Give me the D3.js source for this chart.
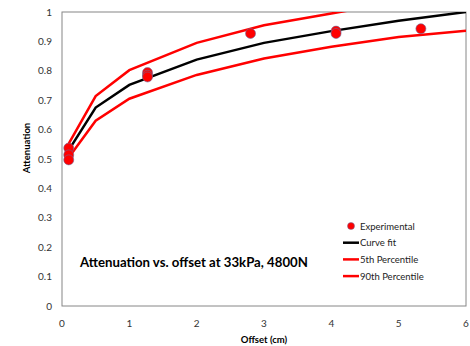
<!DOCTYPE html>
<html>
<head>
<meta charset="utf-8">
<script src="https://cdn.jsdelivr.net/npm/d3@7"></script>
<style>
  body { margin: 0; background: #fff; }
  svg { font-family: Lato, "Open Sans", sans-serif; }
</style>
</head>
<body>
<svg id="chart" width="470" height="346"></svg>
<script>
// curve x positions (cm)
const fitX = [0.1, 0.5, 1, 2, 3, 4, 5, 6];
const curveFit = [0.53, 0.675, 0.752, 0.838, 0.895, 0.935, 0.97, 1.0];
const pct5 = [0.552, 0.714, 0.802, 0.895, 0.955, 0.995, 1.035, 1.07];
const pct90 = [0.505, 0.63, 0.705, 0.786, 0.842, 0.882, 0.915, 0.936];

const expX = [0.1, 0.1, 0.1, 1.27, 1.27, 1.27, 2.8, 4.07, 4.07, 5.33];
const expY = [0.537, 0.514, 0.497, 0.794, 0.785, 0.779, 0.927, 0.935, 0.927, 0.943];

const xTicks = [0, 1, 2, 3, 4, 5, 6];
const yTicks = [0, 0.1, 0.2, 0.3, 0.4, 0.5, 0.6, 0.7, 0.8, 0.9, 1];

const legendItems = ['Experimental', 'Curve fit', '5th Percentile', '90th Percentile'];

const margin = {left: 62, right: 4, top: 12, bottom: 40};
const width = 470, height = 346;

const svg = d3.select('#chart');
const x = d3.scaleLinear().domain([0, 6]).range([margin.left, width - margin.right]);
const y = d3.scaleLinear().domain([0, 1]).range([height - margin.bottom, margin.top]);

svg.append('defs').append('clipPath').attr('id', 'plotClip')
  .append('rect')
  .attr('x', x(0)).attr('y', y(1))
  .attr('width', x(6) - x(0)).attr('height', y(0) - y(1));

// plot border
svg.append('rect')
  .attr('x', x(0)).attr('y', y(1))
  .attr('width', x(6) - x(0)).attr('height', y(0) - y(1))
  .attr('fill', 'none')
  .attr('stroke', '#868686')
  .attr('stroke-width', 1);

// y tick labels
svg.append('g').selectAll('text')
  .data(yTicks)
  .join('text')
  .attr('x', x(0) - 10)
  .attr('y', d => y(d) + 3.5)
  .attr('text-anchor', 'end')
  .attr('font-size', 10)
  .attr('fill', '#333')
  .text(d => d3.format('')(+d.toFixed(1)));

// x tick labels
svg.append('g').selectAll('text')
  .data(xTicks)
  .join('text')
  .attr('x', d => x(d))
  .attr('y', y(0) + 21)
  .attr('text-anchor', 'middle')
  .attr('font-size', 10)
  .attr('fill', '#333')
  .text(d => d);

// axis titles
svg.append('text')
  .attr('x', 264)
  .attr('y', 343)
  .attr('text-anchor', 'middle')
  .attr('font-size', 9.5)
  .attr('font-weight', 'bold')
  .text('Offset (cm)');

svg.append('text')
  .attr('transform', `translate(30,148) rotate(-90)`)
  .attr('text-anchor', 'middle')
  .attr('font-size', 9.5)
  .attr('font-weight', 'bold')
  .text('Attenuation');

const line = d3.line().x(d => x(d[0])).y(d => y(d[1]));
const plot = svg.append('g').attr('clip-path', 'url(#plotClip)');

const series = [
  {vals: pct5, color: '#ff0000'},
  {vals: pct90, color: '#ff0000'},
  {vals: curveFit, color: '#000000'}
];
series.forEach(s => {
  plot.append('path')
    .datum(fitX.map((v, i) => [v, s.vals[i]]))
    .attr('d', line)
    .attr('fill', 'none')
    .attr('stroke', s.color)
    .attr('stroke-width', 2.5);
});

// experimental points
svg.append('g').selectAll('circle')
  .data(expX.map((v, i) => [v, expY[i]]))
  .join('circle')
  .attr('cx', d => x(d[0]))
  .attr('cy', d => y(d[1]))
  .attr('r', 5)
  .attr('fill', '#ff0000')
  .attr('stroke', '#6a6a9a')
  .attr('stroke-width', 0.6);

// annotation
svg.append('text')
  .attr('x', 80)
  .attr('y', 267)
  .attr('font-size', 13.2)
  .attr('font-weight', 'bold')
  .text('Attenuation vs. offset at 33kPa, 4800N');

// legend
const legend = svg.append('g');
legendItems.forEach((name, i) => {
  const ly = 226 + i * 16.7;
  if (i === 0) {
    legend.append('circle')
      .attr('cx', 351).attr('cy', ly)
      .attr('r', 3.5)
      .attr('fill', '#ff0000')
      .attr('stroke', '#6a6a9a')
      .attr('stroke-width', 0.5);
  } else {
    legend.append('line')
      .attr('x1', 343).attr('x2', 359)
      .attr('y1', ly).attr('y2', ly)
      .attr('stroke', i === 1 ? '#000' : '#ff0000')
      .attr('stroke-width', 2.5);
  }
  legend.append('text')
    .attr('x', 360)
    .attr('y', ly + 3.5)
    .attr('font-size', 9.5)
    .attr('fill', '#222')
    .text(name);
});
</script>
</body>
</html>
